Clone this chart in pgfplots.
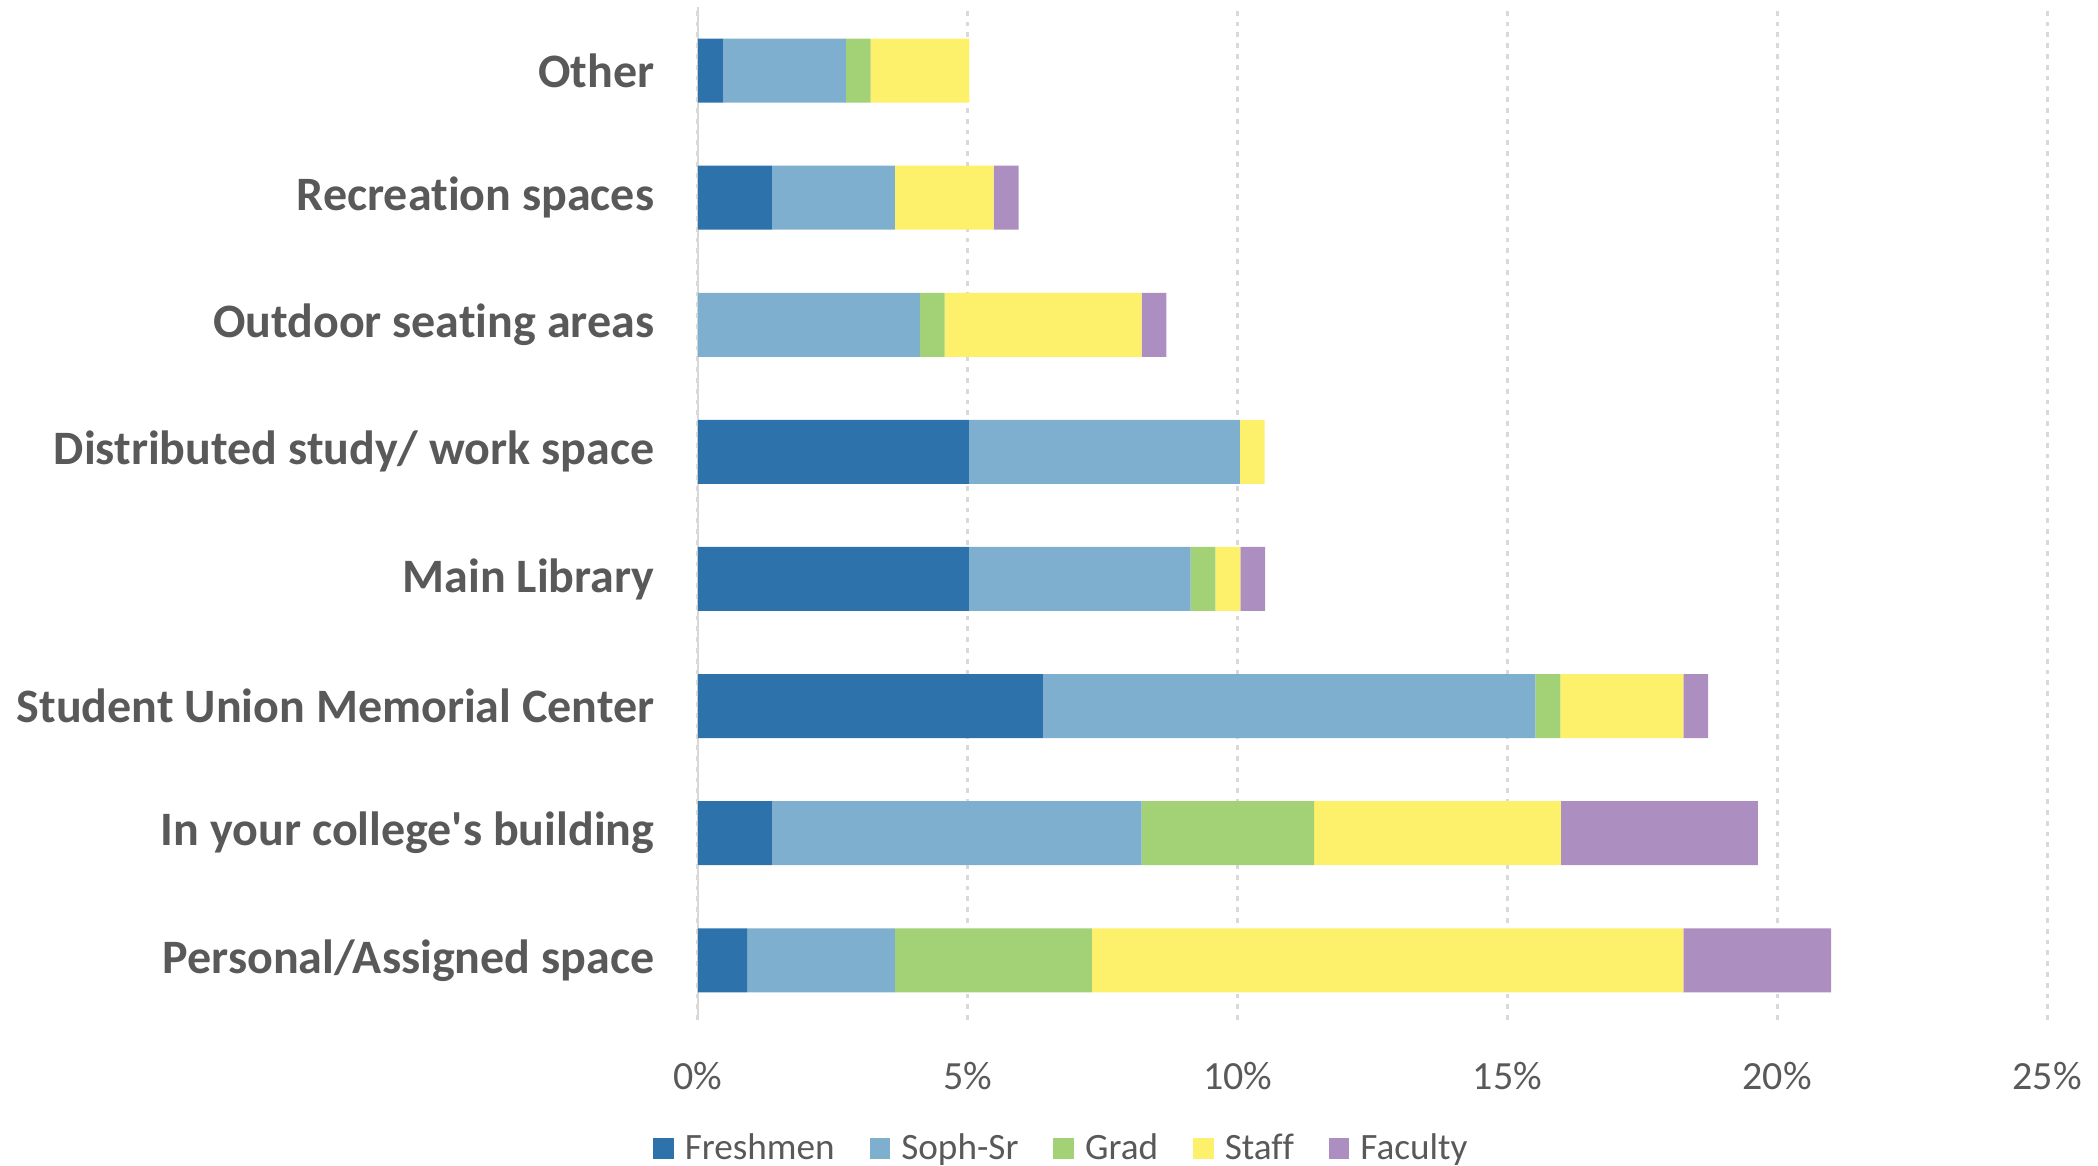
\documentclass[border=0pt]{standalone}
\usepackage{pgfplots}
\pgfplotsset{compat=1.18}
\usepackage{fontspec}
\setmainfont{Carlito}[Ligatures={TeX,NoCommon}]
\definecolor{cFr}{HTML}{2E72AC}
\definecolor{cSo}{HTML}{7EAFCE}
\definecolor{cGr}{HTML}{A3D176}
\definecolor{cSt}{HTML}{FDF06A}
\definecolor{cFa}{HTML}{AD8EC1}
\definecolor{txt}{HTML}{595959}
\definecolor{gridc}{HTML}{D9D9D9}
\begin{document}
\begin{tikzpicture}
\begin{axis}[
  scale only axis,
  width=337.25pt, height=253.25pt,
  xbar stacked, bar width=16pt,
  xmin=0, xmax=25, ymin=-0.47, ymax=7.5,
  ytick={0,...,7},
  yticklabels={Personal/Assigned space,In your college\textquotesingle s building,Student Union Memorial Center,Main Library,Distributed study/ work space,Outdoor seating areas,Recreation spaces,Other},
  yticklabel style={font=\fontsize{12}{14}\selectfont\bfseries, text=txt, xshift=-7.4pt},
  xtick={0,5,10,15,20,25},
  xticklabels={0\%,5\%,10\%,15\%,20\%,25\%},
  xticklabel style={font=\fontsize{10}{12}\selectfont, text=txt, yshift=-7pt},
  major tick length=0pt,
  xmajorgrids,
  major grid style={gridc, line width=0.75pt, dash pattern=on 1.2pt off 1.5pt},
  extra x ticks={0}, extra x tick labels={},
  extra x tick style={major grid style={gridc, line width=0.5pt, solid}},
  axis line style={draw=none},
  legend columns=5,
  legend style={at={(0.27,0)}, anchor=center, yshift=-32.5pt, draw=none, fill=none,
     font=\fontsize{9.3}{11}\selectfont, text=txt,
     /tikz/every odd column/.append style={column sep=1.75pt},
     /tikz/every even column/.append style={column sep=7.7pt},
     nodes={inner xsep=1pt}},
  legend image code/.code={\fill[#1] (0pt,-2.2pt) rectangle (5.2pt,3.0pt);},
  every axis plot/.append style={draw=none},
]
\addplot[fill=cFr] coordinates {(0.91,0) (1.37,1) (6.39,2) (5.02,3) (5.02,4) (0,5) (1.37,6) (0.46,7)};
\addplot[fill=cSo] coordinates {(2.74,0) (6.85,1) (9.13,2) (4.11,3) (5.02,4) (4.11,5) (2.28,6) (2.28,7)};
\addplot[fill=cGr] coordinates {(3.65,0) (3.20,1) (0.46,2) (0.46,3) (0,4) (0.46,5) (0,6) (0.46,7)};
\addplot[fill=cSt] coordinates {(10.96,0) (4.57,1) (2.28,2) (0.46,3) (0.46,4) (3.65,5) (1.83,6) (1.83,7)};
\addplot[fill=cFa] coordinates {(2.74,0) (3.65,1) (0.46,2) (0.46,3) (0,4) (0.46,5) (0.46,6) (0,7)};
\legend{Freshmen,Soph-Sr,Grad,Staff,Faculty}
\coordinate (bl) at (rel axis cs:0,0);
\end{axis}
\pgfresetboundingbox
\path[use as bounding box] ([shift={(-174.5pt,-36.5pt)}]bl) rectangle ([shift={(350pt,255pt)}]bl);
\end{tikzpicture}
\end{document}
